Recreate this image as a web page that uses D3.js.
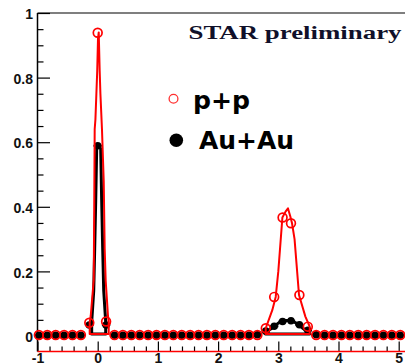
<!DOCTYPE html>
<html><head><meta charset="utf-8">
<script src="https://cdn.jsdelivr.net/npm/d3@7"></script>
<style>html,body{margin:0;padding:0;background:#fff;overflow:hidden}</style>
</head><body>
<svg id="c" width="405" height="364"></svg>
<script>
// ---- data ----
const binWidth = 0.1396;              // delta-phi bin width
const binIndex = d3.range(-7, 37);    // bin k centred at k*binWidth
const ppValues = [
  0.003,0.003,0.003,0.003,0.003,0.003,
  0.041,0.939,0.045,
  0.003,0.003,0.003,0.003,0.003,0.003,0.003,0.003,0.003,0.003,0.003,0.003,0.003,0.003,0.003,0.003,0.003,0.003,
  0.024,0.121,0.367,0.349,0.127,0.029,
  0.003,0.003,0.003,0.003,0.003,0.003,0.003,0.003,0.003,0.003,0.003
];
const auauValues = [
  0.002,0.002,0.002,0.002,0.002,0.002,
  0.034,0.589,0.034,
  0.002,0.002,0.002,0.002,0.002,0.002,0.002,0.002,0.002,0.002,0.002,0.002,0.002,0.002,0.002,0.002,0.002,0.004,
  0.015,0.030,0.045,0.047,0.035,0.018,
  0.004,0.002,0.002,0.002,0.002,0.002,0.002,0.002,0.002,0.002,0.002
];
// fit curves (outline points)
const ppNearCurveX = [-0.133,-0.116,-0.066,-0.058,-0.050,-0.038,-0.022,-0.008,0.005,0.017,0.033,0.045,0.071,0.100,0.116,0.133,0.171,0.183];
const ppNearCurveY = [0.043,0.062,0.173,0.390,0.640,0.670,0.750,0.820,0.920,0.940,0.820,0.750,0.640,0.480,0.270,0.170,0.062,0.043];
const auNearCurveX = [-0.100,-0.066,-0.050,-0.033,-0.017,0.008,0.050,0.066,0.083,0.100,0.133];
const auNearCurveY = [0.043,0.140,0.270,0.420,0.580,0.590,0.580,0.420,0.270,0.140,0.043];
const ppAwayCurveX = [2.791,2.90,2.957,3.00,3.068,3.12,3.161,3.20,3.228,3.27,3.344,3.45,3.522];
const ppAwayCurveY = [0.024,0.080,0.121,0.200,0.367,0.385,0.395,0.370,0.349,0.300,0.127,0.060,0.029];
const auAwayCurveX = [2.79,2.90,3.00,3.10,3.20,3.30,3.40,3.52];
const auAwayCurveY = [0.012,0.025,0.040,0.048,0.048,0.040,0.025,0.010];
const curveBase = 0.006;
const yMajorTicks = [0, 0.2, 0.4, 0.6, 0.8, 1];
const yTickLabels = ["0", "0.2", "0.4", "0.6", "0.8", "1"];
const xMajorTicks = [-1, 0, 1, 2, 3, 4, 5];
const xTickLabels = ["-1", "0", "1", "2", "3", "4", "5"];
const seriesNames = ["p+p", "Au+Au"];
const title = "STAR preliminary";

// ---- drawing ----
const RED = "#ff0000";
const svg = d3.select("#c");
const x = d3.scaleLinear().domain([-1, 5.2]).range([37.5, 37.5 + 6.2 * 60.2]);
const y = d3.scaleLinear().domain([-0.048, 1]).range([351.5, 13]);
const centers = binIndex.map(k => k * binWidth);

// frame top line
svg.append("line").attr("x1", x(-1)).attr("x2", 405).attr("y1", y(1)).attr("y2", y(1))
  .attr("stroke", "#000").attr("stroke-width", 1.2);

// y axis
const yMinor = d3.range(0, 1.0001, 0.05).filter(v => !yMajorTicks.some(m => Math.abs(m - v) < 1e-6));
svg.append("g").attr("transform", `translate(${x(-1)},0)`)
  .call(d3.axisLeft(y).tickValues(yMinor).tickSize(-6).tickFormat(""))
  .call(g => g.select(".domain").remove())
  .selectAll("line").attr("stroke", "#000").attr("stroke-width", 1.2);
const yAx = svg.append("g").attr("transform", `translate(${x(-1)},0)`)
  .call(d3.axisLeft(y).tickValues(yMajorTicks).tickSize(-12.5).tickPadding(4.5)
    .tickFormat((d, i) => yTickLabels[i]));
yAx.select(".domain").remove();
yAx.selectAll("line").attr("stroke", "#000").attr("stroke-width", 1.2);
yAx.selectAll("text").attr("font-family", "Liberation Sans").attr("font-weight", "bold")
  .attr("font-size", 14).attr("fill", "#111").attr("dy", "0.4em");
svg.append("line").attr("x1", x(-1)).attr("x2", x(-1)).attr("y1", y(1)).attr("y2", y(-0.048))
  .attr("stroke", "#000").attr("stroke-width", 1.5);

// x axis
const xMinor = d3.range(-1, 5.2, 0.2).filter(v => !xMajorTicks.some(m => Math.abs(m - v) < 1e-6));
svg.append("g").attr("transform", `translate(0,${y(-0.048)})`)
  .call(d3.axisBottom(x).tickValues(xMinor).tickSize(-5).tickFormat(""))
  .call(g => g.select(".domain").remove())
  .selectAll("line").attr("stroke", "#000").attr("stroke-width", 1.2);
const xAx = svg.append("g").attr("transform", `translate(0,${y(-0.048)})`)
  .call(d3.axisBottom(x).tickValues(xMajorTicks).tickSize(-10).tickPadding(2)
    .tickFormat((d, i) => xTickLabels[i]));
xAx.select(".domain").remove();
xAx.selectAll("line").attr("stroke", "#000").attr("stroke-width", 1.2);
xAx.selectAll("text").attr("font-family", "Liberation Sans").attr("font-weight", "bold")
  .attr("font-size", 14).attr("fill", "#111");
svg.append("line").attr("x1", x(-1)).attr("x2", 405).attr("y1", y(-0.048)).attr("y2", y(-0.048))
  .attr("stroke", RED).attr("stroke-width", 1.5);

// fit curves as closed outlines
const line = d3.line().x(d => x(d[0])).y(d => y(d[1]));
function outline(xs, ys) {
  const pts = xs.map((v, i) => [v, ys[i]]);
  pts.push([xs[xs.length - 1], curveBase]);
  pts.push([xs[0], curveBase]);
  pts.push([xs[0], ys[0]]);
  return pts;
}
[[auNearCurveX, auNearCurveY], [auAwayCurveX, auAwayCurveY]].forEach(([xs, ys]) => {
  svg.append("path").attr("d", line(outline(xs, ys))).attr("fill", "none")
    .attr("stroke", "#000").attr("stroke-width", 3).attr("stroke-linejoin", "round");
});

// horizontal error bars drawn outside the marker
function bars(g, values, r, color, width) {
  const segs = [];
  centers.forEach((c, i) => {
    const cx = x(c), cy = y(values[i]);
    segs.push([x(c - binWidth / 2), cx - r, cy]);
    segs.push([cx + r, x(c + binWidth / 2), cy]);
  });
  g.selectAll("line").data(segs).join("line")
    .attr("x1", d => d[0]).attr("x2", d => d[1]).attr("y1", d => d[2]).attr("y2", d => d[2])
    .attr("stroke", color).attr("stroke-width", width);
}

// Au+Au points
const gA = svg.append("g");
bars(gA, auauValues, 3, "#000", 2);
gA.selectAll("circle").data(centers).join("circle")
  .attr("cx", d => x(d)).attr("cy", (d, i) => y(auauValues[i])).attr("r", 3.8).attr("fill", "#000");

[[ppNearCurveX, ppNearCurveY], [ppAwayCurveX, ppAwayCurveY]].forEach(([xs, ys]) => {
  svg.append("path").attr("d", line(outline(xs, ys))).attr("fill", "none")
    .attr("stroke", RED).attr("stroke-width", 2).attr("stroke-linejoin", "round");
});

// p+p points
const gP = svg.append("g");
bars(gP, ppValues, 4.4, RED, 1.8);
gP.selectAll("circle").data(centers).join("circle")
  .attr("cx", d => x(d)).attr("cy", (d, i) => y(ppValues[i])).attr("r", 4.4)
  .attr("fill", "none").attr("stroke", RED).attr("stroke-width", 1.7);

// legend
svg.append("circle").attr("cx", 173.5).attr("cy", 98.8).attr("r", 4.4)
  .attr("fill", "none").attr("stroke", "#ff3030").attr("stroke-width", 1.3);
svg.append("circle").attr("cx", 176.3).attr("cy", 140.3).attr("r", 6.8).attr("fill", "#000");
svg.append("text").attr("x", 193).attr("y", 109).text(seriesNames[0])
  .attr("font-family", "DejaVu Sans").attr("font-weight", "bold").attr("font-size", 24)
  .attr("fill", "#000").attr("textLength", 57).attr("lengthAdjust", "spacingAndGlyphs");
svg.append("text").attr("x", 199).attr("y", 149).text(seriesNames[1])
  .attr("font-family", "DejaVu Sans").attr("font-weight", "bold").attr("font-size", 24)
  .attr("fill", "#000").attr("textLength", 95).attr("lengthAdjust", "spacingAndGlyphs");

// title
svg.append("text").attr("x", 188.5).attr("y", 39.3).text(title)
  .attr("font-family", "Liberation Serif").attr("font-weight", "bold").attr("font-size", 18)
  .attr("fill", "#10102a").attr("textLength", 213).attr("lengthAdjust", "spacingAndGlyphs");
</script>
</body></html>
